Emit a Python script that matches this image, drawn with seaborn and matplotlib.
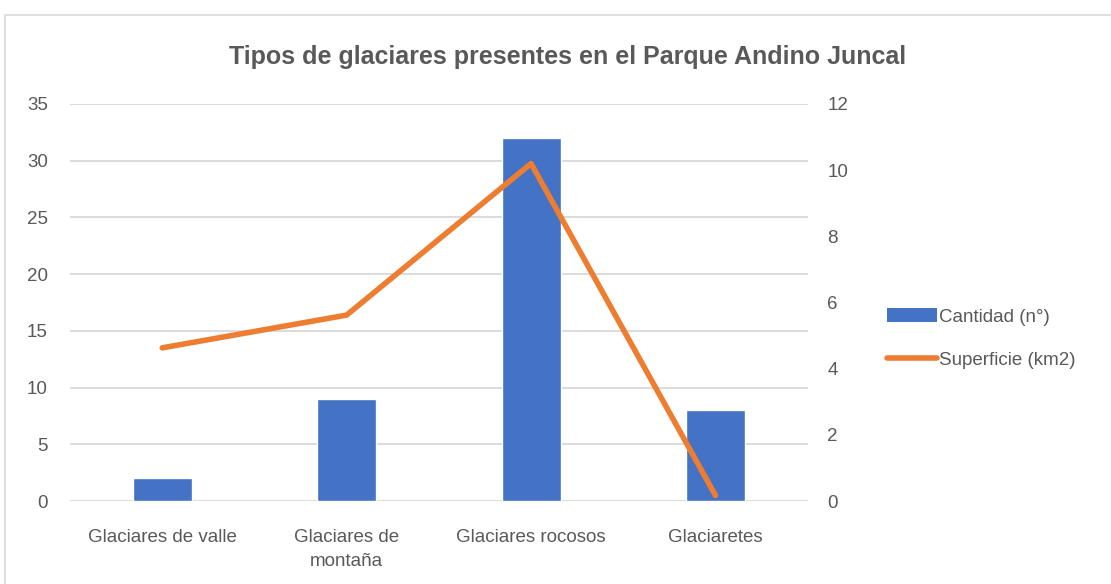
import numpy as np
import pandas as pd
import matplotlib.pyplot as plt
import seaborn as sns
from matplotlib.patches import Patch, Rectangle
from matplotlib.lines import Line2D

# datos del gráfico
categorias = ['Glaciares de valle', 'Glaciares de\nmontaña', 'Glaciares rocosos', 'Glaciaretes']
cantidad = [2, 9, 32, 8]
superficie = [4.63, 5.62, 10.2, 0.17]

azul = '#4472C4'
naranja = '#ED7D31'
gris = '#595959'

sns.set_theme(style='white')
plt.rcParams['font.family'] = ['Liberation Sans', 'DejaVu Sans']

df = pd.DataFrame({'Tipo': categorias, 'Cantidad': cantidad, 'Superficie': superficie})

fig = plt.figure(figsize=(11.11, 5.84), dpi=100)
ax = fig.add_axes([0.063, 0.142, 0.664, 0.680])

# marco del área del gráfico
fig.patches.append(Rectangle((5 / 1111, -0.1), 1.2, (584 - 15) / 584 + 0.1,
                             transform=fig.transFigure, fill=False,
                             edgecolor='#D9D9D9', lw=1.2))

sns.barplot(data=df, x='Tipo', y='Cantidad', color=azul, width=0.32,
            saturation=1, ax=ax, zorder=3)
ax.set_ylim(0, 35)
ax.set_yticks(range(0, 36, 5))
ax.set_xlim(-0.5, 3.5)
ax.grid(axis='y', color='#D9D9D9', lw=1.3, zorder=0)
ax.set_axisbelow(True)
for s in ax.spines.values():
    s.set_visible(False)
ax.set_xlabel('')
ax.set_ylabel('')
ax.tick_params(axis='both', length=0, colors=gris, labelsize=13.5)
ax.tick_params(axis='x', pad=20)
ax.tick_params(axis='y', pad=16)
for t in ax.get_xticklabels():
    t.set_linespacing(1.55)
    t.set_va('top')

ax2 = ax.twinx()
sns.lineplot(x=np.arange(len(superficie)), y=superficie, ax=ax2, color=naranja,
             lw=4, solid_capstyle='round', zorder=4)
ax2.set_ylim(0, 12)
ax2.set_yticks(range(0, 13, 2))
ax2.set_xlim(-0.5, 3.5)
for s in ax2.spines.values():
    s.set_visible(False)
ax2.grid(False)
ax2.set_ylabel('')
ax2.tick_params(axis='y', length=0, colors=gris, labelsize=13.5, pad=14)

fig.text(0.511, 0.903, 'Tipos de glaciares presentes en el Parque Andino Juncal',
         ha='center', va='center', fontsize=18, fontweight='bold', color=gris)

handles = [Patch(facecolor=azul, edgecolor='none'),
           Line2D([0], [0], color=naranja, lw=4, solid_capstyle='round')]
fig.legend(handles, ['Cantidad (n°)', 'Superficie (km2)'], loc='center left',
           bbox_to_anchor=(0.783, 0.42), frameon=False, fontsize=13.5,
           labelcolor=gris, handlelength=2.7, handletextpad=0.1, labelspacing=1.4)

fig.savefig('out.png', dpi=100)
